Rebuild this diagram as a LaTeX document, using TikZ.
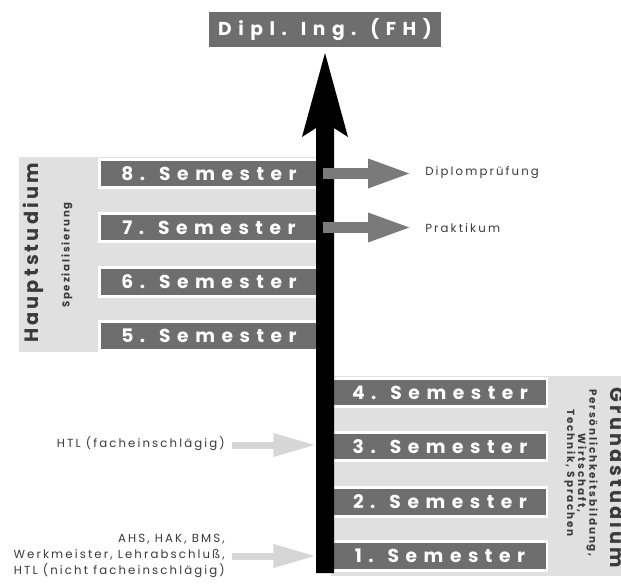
\documentclass[tikz,border=0pt]{standalone}
\usepackage{fontspec}
\setmainfont{Poppins}
\newfontfamily\wide[LetterSpace=35]{Poppins}
\newfontfamily\stud[LetterSpace=16]{Poppins}
\newfontfamily\lbl[LetterSpace=18]{Poppins}
\usetikzlibrary{arrows.meta}
\definecolor{bar}{HTML}{6E6E6E}
\definecolor{panel}{HTML}{E0E0E0}
\definecolor{ink}{HTML}{3A3A3A}
\definecolor{inarr}{HTML}{D6D6D6}
\definecolor{outarr}{HTML}{7A7A7A}
\tikzset{
  sembar/.style={fill=bar, draw=white, line width=2.2pt, minimum height=21.5pt,
    inner sep=0pt, text=white, font=\wide\bfseries\fontsize{14}{14}\selectfont},
  topsem/.style={sembar, minimum width=164pt},
  botsem/.style={sembar, minimum width=160.5pt},
  smalltext/.style={text=ink, font=\lbl\fontsize{8.8}{12}\selectfont, inner sep=0pt},
  outarrow/.style={draw=outarr, line width=8.25pt, -{Triangle[width=19.5pt,length=33.75pt]}},
  inarrow/.style={draw=inarr, line width=5.25pt, -{Triangle[width=16.5pt,length=32pt]}},
  studlabel/.style={text=ink, inner sep=0pt, font=\stud\bfseries\fontsize{14.5}{14.5}\selectfont},
}
\begin{document}
\begin{tikzpicture}[x=0.75pt,y=-0.75pt]
\useasboundingbox (0,0) rectangle (621,583);
% panels
\fill[panel] (19,157) rectangle (322,352);
\fill[panel] (331,376) rectangle (621,576);
% top box
\node[fill=bar, minimum width=174pt, minimum height=26.5pt, inner sep=0pt, text=white,
  font=\wide\bfseries\fontsize{14}{14}\selectfont] (dipl) at (325,29.5) {Dipl. Ing. (FH)};
% Hauptstudium bars
\node[topsem] (s8) at (209,173.5) {8. Semester};
\node[topsem] (s7) at (209,227.5) {7. Semester};
\node[topsem] (s6) at (209,282) {6. Semester};
\node[topsem] (s5) at (209,336) {5. Semester};
% Grundstudium bars
\node[botsem] (s4) at (440,392.5) {4. Semester};
\node[botsem] (s3) at (440,446.5) {3. Semester};
\node[botsem] (s2) at (440,502) {2. Semester};
\node[botsem] (s1) at (440,556) {1. Semester};
% side labels
\node[studlabel, rotate=90, anchor=base] (haupt) at (38,253) {Hauptstudium};
\node[text=ink, inner sep=0pt, rotate=90, font=\lbl\bfseries\fontsize{7.6}{9}\selectfont] (spez) at (67,255) {Spezialisierung};
\node[studlabel, rotate=-90, anchor=base] (grund) at (610,478) {Grundstudium};
\node[text=ink, inner sep=0pt, rotate=-90, align=center,
  font=\lbl\bfseries\fontsize{7.8}{8.4}\selectfont] (grundsub) at (581,473)
  {Persönlichkeitsbildung,\\Wirtschaft,\\Technik, Sprachen};
% main black arrow
\coordinate (base) at (325,573);
\coordinate (tip) at (325,53);
\fill[black] (316,573) -- (316,128) -- (302,137) -- (tip) -- (348,137) -- (334,128) -- (334,573) -- cycle;
% outgoing arrows
\node[smalltext, anchor=west] (dp) at (425,173) {Diplomprüfung};
\node[smalltext, anchor=west] (pr) at (425,228) {Praktikum};
\coordinate (o8) at (323,173.5);
\coordinate (o7) at (323,227.5);
\draw[outarrow, shorten >=9pt] (o8) -- (dp.west |- o8);
\draw[outarrow, shorten >=9pt] (o7) -- (pr.west |- o7);
% incoming arrows
\node[smalltext, anchor=east] (htl) at (225,444) {HTL (facheinschlägig)};
\node[smalltext, anchor=east, align=right] (ahs) at (225,556)
  {AHS, HAK, BMS,\\Werkmeister, Lehrabschluß,\\HTL (nicht facheinschlägig)};
\coordinate (i3) at (316,445);
\coordinate (i1) at (316,556);
\draw[inarrow, shorten <=5pt] (htl.east |- i3) -- (i3);
\draw[inarrow, shorten <=5pt] (ahs.east |- i1) -- (i1);
\end{tikzpicture}
\end{document}
